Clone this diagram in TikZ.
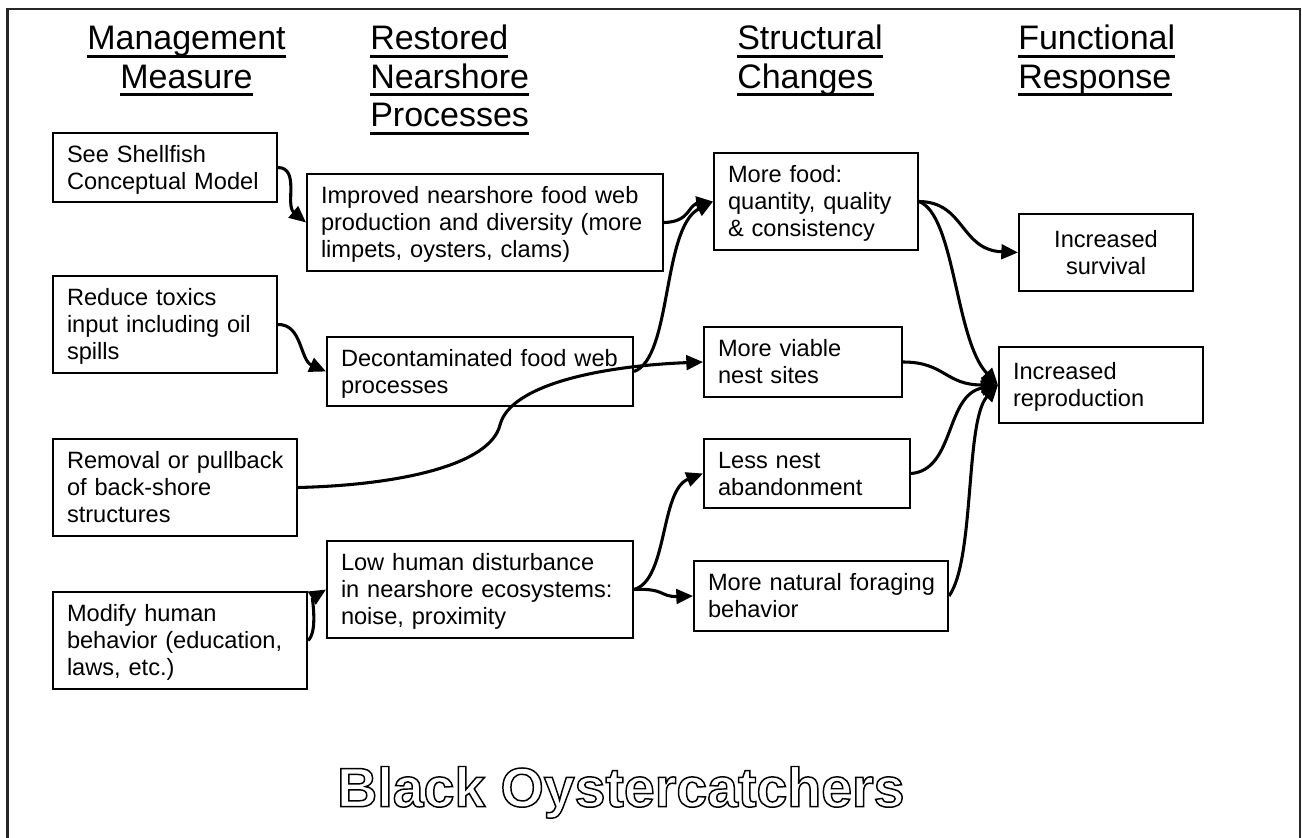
\documentclass[tikz,border=0pt]{standalone}
\usepackage{fontspec}
\setmainfont{Liberation Sans}
\usetikzlibrary{arrows.meta}
\newcommand\bs{\rule[-0.212em]{0pt}{1.117em}}
\newcommand\outlinetext[1]{\special{pdf:literal direct 1 Tr 1.1 w}#1\special{pdf:literal direct 0 Tr}}
\begin{document}
\begin{tikzpicture}[x=0.75pt,y=-0.75pt,
  boxbase/.style={draw=black, line width=1.5pt, rectangle, inner ysep=0pt,
    font=\fontsize{17.7pt}{20.4pt}\selectfont},
  box/.style={boxbase, inner xsep=2pt, align=left,
    execute at begin node={\leftskip=8.5pt\hyphenpenalty=10000\exhyphenpenalty=10000\bs},
    execute at end node=\bs},
  cbox/.style={boxbase, inner xsep=10.5pt, align=center,
    execute at begin node=\bs, execute at end node=\bs},
  hdr/.style={inner sep=0pt, font=\fontsize{25.5pt}{28.7pt}\selectfont},
  arr/.style={line width=2.3pt, -{Triangle[length=12.5pt,width=11pt]}},
  ul/.style={line width=2.2pt},
  frame/.style={line width=1.6pt, draw=black!85}]

\useasboundingbox (0,0) rectangle (1302,838);

% frame
\draw[frame] (7.5,845) -- (7.5,9) -- (1300,9) -- (1300,845);

% headers
\node[hdr, anchor=base] (h1) at (186.5,50) {Management};
\node[hdr, anchor=base] (h2) at (186.5,88.3) {Measure};
\node[hdr, anchor=base west] (h3) at (370,50) {Restored};
\node[hdr, anchor=base west] (h4) at (370,88.3) {Nearshore};
\node[hdr, anchor=base west] (h5) at (370,126.6) {Processes};
\node[hdr, anchor=base west] (h6) at (737,50) {Structural};
\node[hdr, anchor=base west] (h7) at (737,88.3) {Changes};
\node[hdr, anchor=base west] (h8) at (1018,50) {Functional};
\node[hdr, anchor=base west] (h9) at (1018,88.3) {Response};
\foreach \n in {h1,h2,h3,h4,h5,h6,h7,h8,h9}
  \draw[ul] ([yshift=-5pt]\n.base west) -- ([yshift=-5pt]\n.base east);

% column 1
\node[box, minimum width=168pt, minimum height=51.75pt, text width=164pt] (A1) at (165,167.5)
  {See Shellfish\\Conceptual Model};
\node[box, minimum width=168pt, minimum height=72.75pt, text width=164pt] (A2) at (165,324.5)
  {Reduce toxics\\input including oil\\spills};
\node[box, minimum width=183pt, minimum height=72.75pt, text width=179pt] (A3) at (175,487.5)
  {Removal or pullback\\of back-shore\\structures};
\node[box, minimum width=190.5pt, minimum height=72.75pt, text width=186.5pt] (A4) at (180,640.5)
  {Modify human\\behavior (education,\\laws, etc.)};

% column 2
\node[box, minimum width=267pt, minimum height=72.75pt, text width=263pt] (B1) at (485,222.5)
  {Improved nearshore food web\\production and diversity (more\\limpets, oysters, clams)};
\node[box, minimum width=229.5pt, minimum height=51.75pt, text width=225.5pt] (B2) at (480,371.5)
  {Decontaminated food web\\processes};
\node[box, minimum width=229.5pt, minimum height=72.75pt, text width=225.5pt] (B3) at (480,589.5)
  {Low human disturbance\\in nearshore ecosystems:\\noise, proximity};

% column 3
\node[box, minimum width=153pt, minimum height=72.75pt, text width=149pt] (C1) at (816,201.5)
  {More food:\\quantity, quality\\\& consistency};
\node[box, minimum width=148.5pt, minimum height=52.5pt, text width=144.5pt] (C2) at (803,362)
  {More viable\\nest sites};
\node[box, minimum width=154.5pt, minimum height=51.75pt, text width=150.5pt] (C3) at (807,473.5)
  {Less nest\\abandonment};
\node[box, minimum width=190.5pt, minimum height=52.5pt, text width=186.5pt] (C4) at (821,596)
  {More natural foraging\\behavior};

% column 4
\node[cbox, minimum width=130.5pt, minimum height=57.75pt, text width=109.5pt] (D1) at (1106,252.5)
  {Increased\\survival};
\node[box, minimum width=153pt, minimum height=57pt, text width=149pt] (D2) at (1101,385)
  {Increased\\reproduction};

% title
\node[inner sep=0pt, anchor=base west, font=\fontsize{41.6pt}{48pt}\selectfont\bfseries] (title) at (337,806.7)
  {\outlinetext{Black Oystercatchers}};

% connectors
\coordinate (m1) at (500,425);
\draw[arr] (A1.east) .. controls (300,168) and (285,205) .. (B1.west);
\draw[arr] (A2.east) .. controls (302,324) and (300,360) .. (B2.west);
\draw[arr] (B1.east) .. controls (690,222) and (688,205) .. (C1.west);
\draw[arr] (B2.east) .. controls (672,358) and (662,228) .. (C1.west);
\draw[arr] (A3.east) .. controls (400,485) and (490,465) .. (m1) .. controls (510,385) and (600,366) .. (C2.west);
\draw[arr] (A4.east) .. controls (318,632) and (312,598) .. (B3.west);
\draw[arr] (B3.east) .. controls (668,580) and (660,490) .. (C3.west);
\draw[arr] (B3.east) .. controls (665,588) and (660,597) .. (C4.west);
\draw[arr] (C1.east) .. controls (965,202) and (960,250) .. (D1.west);
\draw[arr] (C1.east) .. controls (955,215) and (955,340) .. (D2.west);
\draw[arr] (C2.east) .. controls (945,362) and (945,385) .. (D2.west);
\draw[arr] (C3.east) .. controls (955,470) and (945,395) .. (D2.west);
\draw[arr] (C4.east) .. controls (975,560) and (965,420) .. (D2.west);
\end{tikzpicture}
\end{document}
